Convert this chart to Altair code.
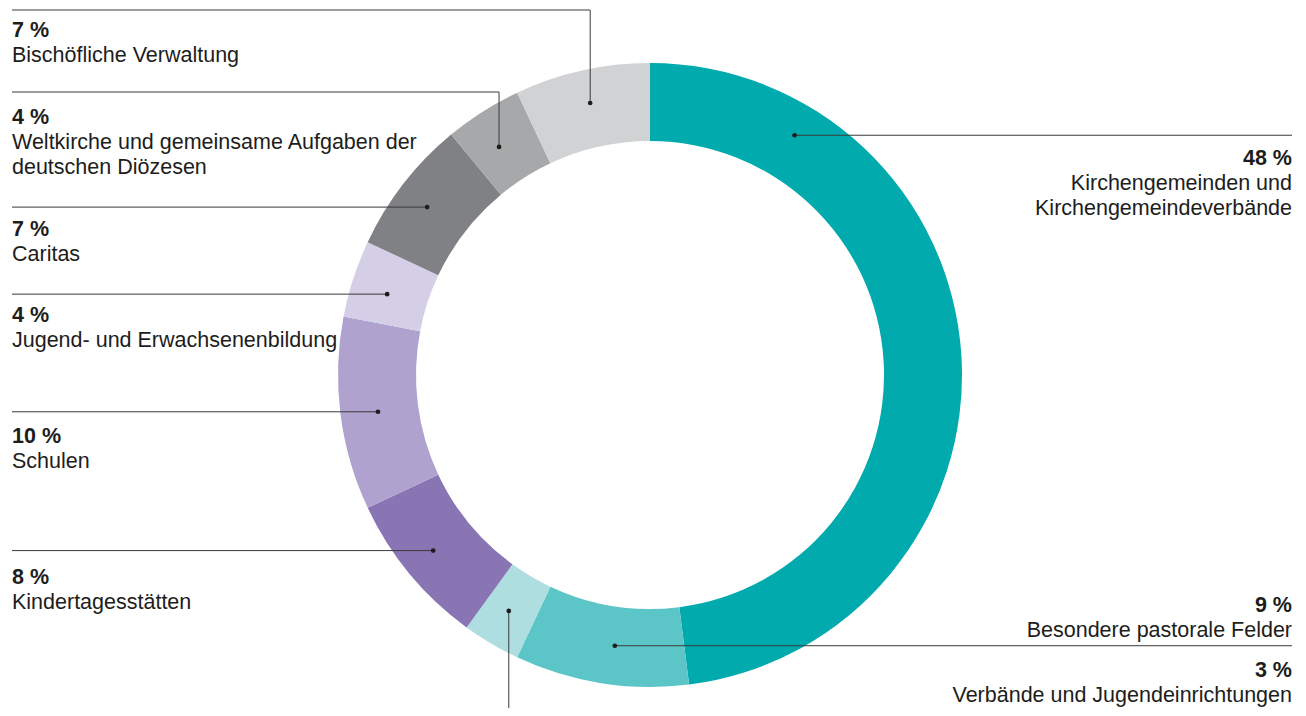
import math
import altair as alt
import pandas as pd

# ---------------- data ----------------
categories = [
    "Kirchengemeinden und Kirchengemeindeverbände",
    "Besondere pastorale Felder",
    "Verbände und Jugendeinrichtungen",
    "Kindertagesstätten",
    "Schulen",
    "Jugend- und Erwachsenenbildung",
    "Caritas",
    "Weltkirche und gemeinsame Aufgaben der deutschen Diözesen",
    "Bischöfliche Verwaltung",
]
shares = [48, 9, 3, 8, 10, 4, 7, 4, 7]
label_lines = [
    ["Kirchengemeinden und", "Kirchengemeindeverbände"],
    ["Besondere pastorale Felder"],
    ["Verbände und Jugendeinrichtungen"],
    ["Kindertagesstätten"],
    ["Schulen"],
    ["Jugend- und Erwachsenenbildung"],
    ["Caritas"],
    ["Weltkirche und gemeinsame Aufgaben der", "deutschen Diözesen"],
    ["Bischöfliche Verwaltung"],
]
colors = ["#00AAAD", "#5BC5C7", "#AEDEE0", "#8974B4", "#AFA2CF",
          "#D4CFE7", "#808184", "#A7A8AA", "#D1D2D4"]

# ---------------- layout (page pixel coordinates) ----------------
W, H = 1290, 700
CX, CY = 650, 375
R_OUT, R_IN = 312, 234
dot_angle = [31.1, 187.4, 210.9, 231.0, 262.3, 287.1, 307.0, 326.5, 347.6]
dot_r = [280, 273, 275, 279, 274.5, 275, 279, 273.5, 278.5]
side = ["right", "right", "down", "left", "left", "left", "left", "left", "left"]
elbow_y = [None, None, None, None, None, None, None, 92, 10]
text_side = ["right", "right", "right", "left", "left", "left", "left", "left", "left"]
text_y = [165, 612, 677, 584, 443, 322, 236, 124, 37]
LEFT_X, RIGHT_X, BOTTOM_Y = 12, 1292, 716
LINE_H = 25
FONT_SIZE = 21.5

xs = alt.Scale(domain=[8, 8 + W], nice=False, zero=False)
ys = alt.Scale(domain=[8, 8 + H], nice=False, zero=False, reverse=True)

# donut
arc_df = pd.DataFrame({
    "cat": categories, "share": shares, "idx": list(range(len(categories))),
    "cx": CX, "cy": CY,
})
donut = alt.Chart(arc_df).mark_arc(
    radius=R_OUT, radius2=R_IN, strokeWidth=0
).encode(
    theta=alt.Theta("share:Q", stack=True),
    order=alt.Order("idx:Q", sort="ascending"),
    color=alt.Color("cat:N", scale=alt.Scale(domain=categories, range=colors), legend=None),
    x=alt.X("cx:Q", scale=xs, axis=None),
    y=alt.Y("cy:Q", scale=ys, axis=None),
)

# leader lines and dots
dots, paths = [], []
for i, c in enumerate(categories):
    a = math.radians(dot_angle[i])
    dx = CX + dot_r[i] * math.sin(a)
    dy = CY - dot_r[i] * math.cos(a)
    dots.append({"cat": c, "px": dx, "py": dy})
    if side[i] == "down":
        pts = [(dx, dy), (dx, BOTTOM_Y)]
    else:
        end_x = LEFT_X if side[i] == "left" else RIGHT_X
        ey = elbow_y[i] if elbow_y[i] is not None else dy
        pts = [(end_x, ey), (dx, ey)]
        if elbow_y[i] is not None:
            pts.append((dx, dy))
    for k, (px, py) in enumerate(pts):
        paths.append({"cat": c, "seq": k, "px": px, "py": py})

lines = alt.Chart(pd.DataFrame(paths)).mark_line(
    color="#3a3a3a", strokeWidth=1, clip=False
).encode(
    x=alt.X("px:Q", scale=xs, axis=None),
    y=alt.Y("py:Q", scale=ys, axis=None),
    detail="cat:N",
    order=alt.Order("seq:Q"),
)
points = alt.Chart(pd.DataFrame(dots)).mark_circle(
    size=22, color="#1d1d1b", opacity=1
).encode(
    x=alt.X("px:Q", scale=xs, axis=None),
    y=alt.Y("py:Q", scale=ys, axis=None),
)

# texts
texts = []
for i, c in enumerate(categories):
    tx = LEFT_X if text_side[i] == "left" else RIGHT_X
    texts.append({"txt": f"{shares[i]} %", "px": tx, "py": text_y[i],
                  "side": text_side[i], "bold": True})
    for j, ln in enumerate(label_lines[i]):
        texts.append({"txt": ln, "px": tx, "py": text_y[i] + LINE_H * (j + 1),
                      "side": text_side[i], "bold": False})
tdf = pd.DataFrame(texts)

def text_layer(sd, bold):
    sub = tdf[(tdf["side"] == sd) & (tdf["bold"] == bold)]
    return alt.Chart(sub).mark_text(
        align=sd, baseline="alphabetic", font="Liberation Sans", fontSize=FONT_SIZE,
        fontWeight="bold" if bold else "normal", color="#1d1d1b",
    ).encode(
        x=alt.X("px:Q", scale=xs, axis=None),
        y=alt.Y("py:Q", scale=ys, axis=None),
        text="txt:N",
    )

chart = alt.layer(
    donut, lines, points,
    text_layer("left", True), text_layer("left", False),
    text_layer("right", True), text_layer("right", False),
).properties(
    width=W, height=H, padding=0, autosize=alt.AutoSizeParams(type="none"),
    background="white",
).configure_view(stroke=None)

chart.save("out.html", embed_options={"renderer": "svg", "actions": False})
